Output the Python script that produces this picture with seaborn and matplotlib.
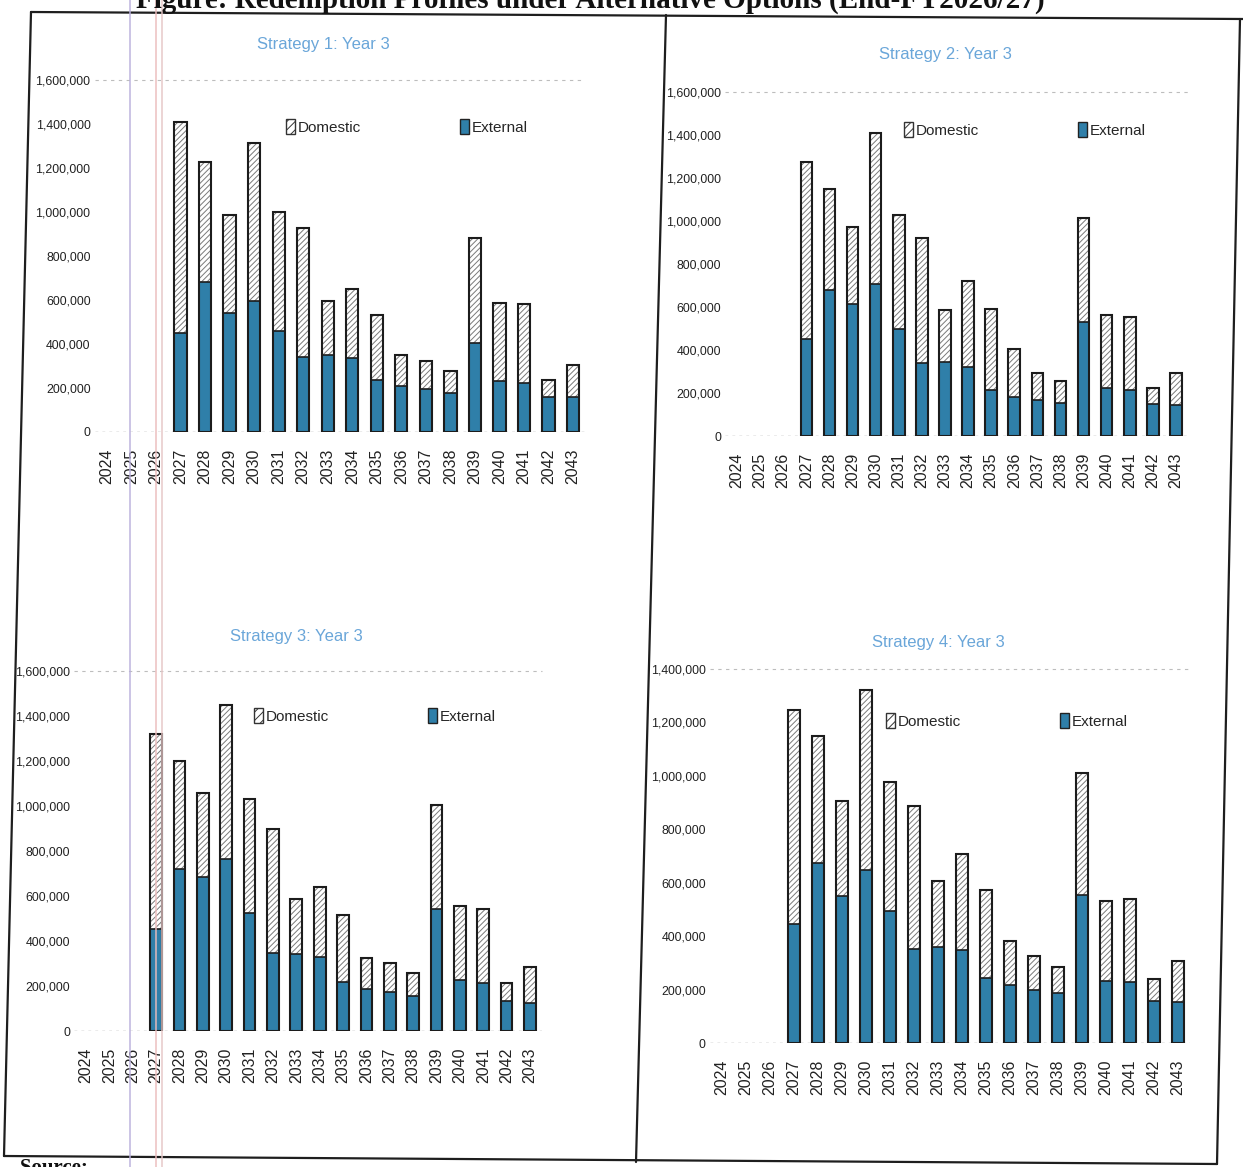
import numpy as np
import pandas as pd
import matplotlib
matplotlib.use("Agg")
import matplotlib.pyplot as plt
import seaborn as sns
from matplotlib.patches import Patch
from matplotlib.lines import Line2D

# --- dados (valores aproximados) ---
years = [str(y) for y in range(2024, 2044)]

s1_external = [0, 0, 0, 450000, 683000, 541000, 595000, 459000, 342000, 350000,
               335000, 236000, 209000, 195000, 177000, 404000, 232000, 223000, 159000, 159000]
s1_domestic = [0, 0, 0, 960000, 545000, 445000, 717000, 542000, 586000, 245000,
               315000, 294000, 141000, 128000, 100000, 477000, 354000, 359000, 77000, 146000]

s2_external = [0, 0, 0, 450000, 679000, 612000, 706000, 500000, 341000, 343000,
               321000, 214000, 183000, 166000, 155000, 532000, 223000, 212000, 149000, 144000]
s2_domestic = [0, 0, 0, 824000, 472000, 360000, 705000, 527000, 579000, 242000,
               400000, 375000, 220000, 129000, 101000, 480000, 338000, 343000, 76000, 149000]

s3_external = [0, 0, 0, 452000, 722000, 685000, 763000, 526000, 348000, 344000,
               329000, 218000, 188000, 173000, 156000, 544000, 225000, 215000, 133000, 126000]
s3_domestic = [0, 0, 0, 866000, 478000, 374000, 684000, 507000, 551000, 241000,
               311000, 298000, 138000, 128000, 104000, 459000, 331000, 329000, 82000, 158000]

s4_external = [0, 0, 0, 447000, 674000, 552000, 647000, 493000, 353000, 358000,
               347000, 243000, 216000, 200000, 187000, 555000, 233000, 227000, 158000, 152000]
s4_domestic = [0, 0, 0, 799000, 475000, 355000, 674000, 484000, 533000, 247000,
               362000, 331000, 165000, 125000, 96000, 456000, 298000, 312000, 82000, 154000]

titles = ["Strategy 1: Year 3", "Strategy 2: Year 3", "Strategy 3: Year 3", "Strategy 4: Year 3"]
y_tops = [1600000, 1600000, 1600000, 1400000]

W, H = 1243, 1167
BLUE = "#2f7fa9"
TITLE_BLUE = "#6aa6d9"
SANS = ["Liberation Sans", "DejaVu Sans"]

sns.set_theme(style="white")
plt.rcParams["font.family"] = SANS
plt.rcParams["hatch.linewidth"] = 0.7


def rect(l, r, top, bot):
    return [l / W, 1 - bot / H, (r - l) / W, (bot - top) / H]


# posições dos painéis em pixels: (esq, dir, topo, base)
panels = [
    (94.7, 585.3, 80, 432),
    (725.4, 1187.6, 92, 436),
    (74.3, 541.7, 671, 1031),
    (710, 1190, 669, 1043),
]
# posição do título e da legenda (pixels)
title_pos = [(323, 45), (945, 55), (296, 637), (938, 642)]
legend_pos = [(286, 127), (904, 130), (254, 716), (886, 721)]

series = [
    (s1_external, s1_domestic),
    (s2_external, s2_domestic),
    (s3_external, s3_domestic),
    (s4_external, s4_domestic),
]

fig = plt.figure(figsize=(W / 100, H / 100), dpi=100)

for i, (ext, dom) in enumerate(series):
    l, r, t, b = panels[i]
    ax = fig.add_axes(rect(l, r, t, b))
    total = [e + d for e, d in zip(ext, dom)]
    df = pd.DataFrame({"year": years, "external": ext, "total": total})

    # camada doméstica (hachurada), externa (azul) e contorno
    sns.barplot(data=df, x="year", y="total", color="white", width=0.5,
                edgecolor="#7a7a7a", linewidth=0, ax=ax)
    n = len(years)
    for p in ax.patches[:n]:
        p.set_hatch("//////")
    sns.barplot(data=df, x="year", y="external", color=BLUE, saturation=1, width=0.5,
                edgecolor="#1c1c1c", linewidth=1.2, ax=ax)
    sns.barplot(data=df, x="year", y="total", color="#1c1c1c", fill=False, width=0.5,
                linewidth=1.5, ax=ax)
    for k, p in enumerate(ax.patches):
        if total[k % n] == 0:
            p.set_visible(False)

    ax.set_xlim(-0.5, n - 0.5)
    ax.set_ylim(0, y_tops[i])
    ax.set_yticks(np.arange(0, y_tops[i] + 1, 200000))
    ax.set_yticklabels([f"{int(v):,}" for v in ax.get_yticks()], fontsize=8.9,
                       color="#222222")
    ax.set_xticks(range(n))
    ax.set_xticklabels(years, rotation=90, fontsize=11.5, color="#222222")
    ax.tick_params(axis="x", length=0, pad=12)
    ax.tick_params(axis="y", length=0, pad=3)
    ax.set_xlabel("")
    ax.set_ylabel("")
    for s in ax.spines.values():
        s.set_visible(False)
    ax.axhline(0, color="#9a9a9a", linestyle=(0, (2, 3)), linewidth=1, zorder=0)
    ax.axhline(y_tops[i], color="#bdbdbd", linestyle=(0, (3, 4)), linewidth=0.8,
               zorder=0, clip_on=False)

    tx, ty = title_pos[i]
    fig.text(tx / W, 1 - ty / H, titles[i], ha="center", va="center",
             fontsize=12, color=TITLE_BLUE)

    handles = [Patch(facecolor="white", edgecolor="#333333", hatch="////"),
               Patch(facecolor=BLUE, edgecolor="#222222")]
    lx, ly = legend_pos[i]
    ax.legend(handles, ["Domestic", "External"], loc="center left",
              bbox_to_anchor=(lx / W, 1 - ly / H), bbox_transform=fig.transFigure,
              ncol=2, frameon=False, handlelength=0.6, handleheight=1.1,
              handletextpad=0.15, columnspacing=6.5, borderaxespad=0,
              borderpad=0, prop={"size": 11})

# moldura digitalizada (ligeiramente inclinada) e divisória
frame = [((31, 12), (1243, 19)), ((31, 12), (4, 1156)), ((4, 1156), (1217, 1164)),
         ((1240, 19), (1217, 1164)), ((666, 15), (636, 1162))]
for (x0, y0), (x1, y1) in frame:
    fig.add_artist(Line2D([x0 / W, x1 / W], [1 - y0 / H, 1 - y1 / H],
                          color="#1e1e1e", linewidth=1.6))

# riscos verticais do scanner
for x, c in [(130, "#b9b0dc"), (156, "#ebbcbc"), (162, "#e6c6c6")]:
    fig.add_artist(Line2D([x / W, x / W], [0, 1], color=c, linewidth=1.3, alpha=0.8))

# título cortado no topo e fonte cortada em baixo
fig.text(1045 / W, 1 - 8 / H,
         "Figure: Redemption Profiles under Alternative Options (End-FY2026/27)",
         ha="right", va="baseline", fontsize=21, fontweight="bold",
         family=["Liberation Serif", "DejaVu Serif"], color="#111111")
fig.text(20 / W, 1 - 1158 / H, "Source: ", ha="left", va="top", fontsize=15,
         fontweight="bold", family=["Liberation Serif", "DejaVu Serif"], color="#111111")

fig.savefig("out.png", dpi=100)
